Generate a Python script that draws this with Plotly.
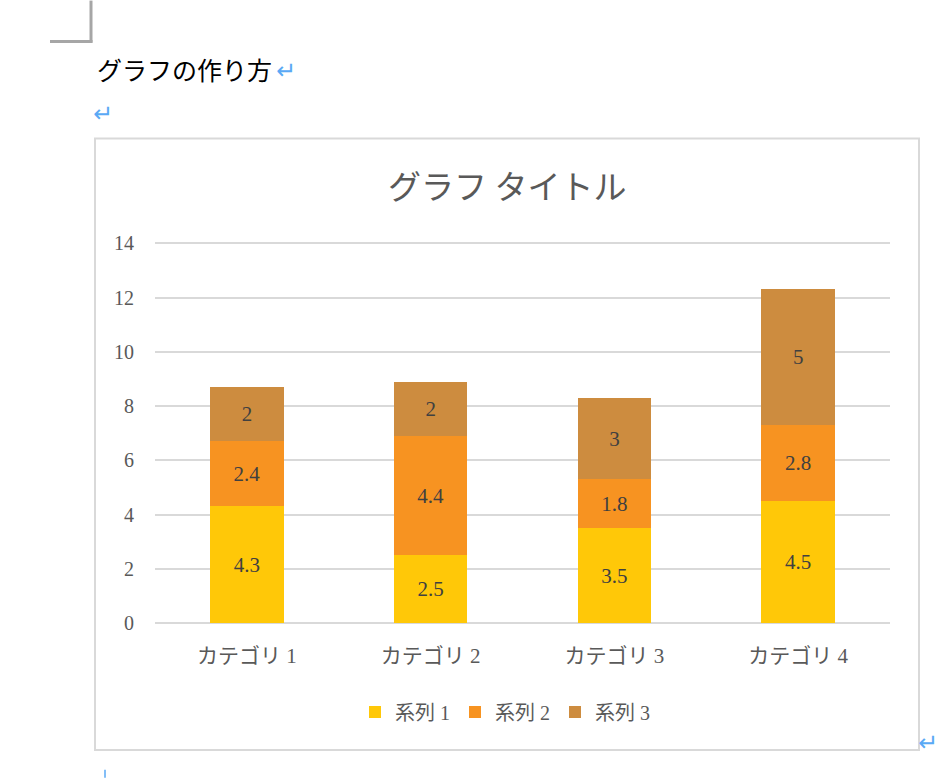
import plotly.graph_objects as go

categories = ["カテゴリ 1", "カテゴリ 2", "カテゴリ 3", "カテゴリ 4"]
series_names = ["系列 1", "系列 2", "系列 3"]
series1 = [4.3, 2.5, 3.5, 4.5]
series2 = [2.4, 4.4, 1.8, 2.8]
series3 = [2, 2, 3, 5]
colors = ["#FFC808", "#F79321", "#CD8C3F"]
y_ticks = [0, 2, 4, 6, 8, 10, 12, 14]

W, H = 946, 778
YMAX = 14.05
L, R, B = 155, 890, 623  # plot area in pixels
T = B - (B - 243) * YMAX / 14.0


def px(x):
    return (x - L) / (R - L)


def py(y):
    return (B - y) / (B - T)


SERIF = "Liberation Serif, DejaVu Serif, Noto Sans CJK JP, serif"
SANS = "Noto Sans CJK JP, Noto Sans, sans-serif"
TXT = "#595959"
BLUE = "#5AA9F5"

fig = go.Figure()
for name, vals, col in zip(series_names, [series1, series2, series3], colors):
    fig.add_trace(go.Bar(
        x=categories, y=vals, name=name, marker=dict(color=col, line=dict(width=0)),
        text=[f"{v:g}" for v in vals], textposition="inside",
        insidetextanchor="middle", textangle=0,
        textfont=dict(family=SERIF, size=21, color="#404040"),
        hoverinfo="skip",
    ))

fig.update_layout(
    width=W, height=H, autosize=False,
    margin=dict(l=L, r=W - R, t=T, b=H - B, pad=0),
    paper_bgcolor="white", plot_bgcolor="white",
    barmode="stack", bargap=0.6,
    showlegend=True,
    legend=dict(orientation="h", x=px(505), xanchor="center", y=py(712), yanchor="middle",
                font=dict(family=SERIF, size=20, color=TXT), traceorder="normal",
                itemwidth=30, bgcolor="rgba(0,0,0,0)"),
    xaxis=dict(showgrid=False, showline=False, ticks="", tickfont=dict(family=SERIF, size=21, color=TXT),
               ticklabelstandoff=18, fixedrange=True),
    yaxis=dict(range=[0, YMAX], tickvals=y_ticks, showgrid=True, gridcolor="#D9D9D9", gridwidth=1.5,
               zeroline=True, zerolinecolor="#D9D9D9", zerolinewidth=2, showline=False, ticks="",
               tickfont=dict(family=SERIF, size=20, color=TXT), ticklabelstandoff=20, fixedrange=True),
)

shapes = [
    # chart frame
    dict(type="rect", xref="paper", yref="paper", x0=px(95), x1=px(919), y0=py(138), y1=py(750),
         line=dict(color="#D9D9D9", width=2), fillcolor="rgba(0,0,0,0)", layer="below"),
    # page corner mark
    dict(type="line", xref="paper", yref="paper", x0=px(91), x1=px(91), y0=py(0), y1=py(42),
         line=dict(color="#A6A6A6", width=3)),
    dict(type="line", xref="paper", yref="paper", x0=px(50), x1=px(92.5), y0=py(41), y1=py(41),
         line=dict(color="#A6A6A6", width=3)),
    # partially visible mark at the bottom
    dict(type="line", xref="paper", yref="paper", x0=px(105), x1=px(105), y0=py(770), y1=py(778),
         line=dict(color=BLUE, width=1.5)),
]
fig.update_layout(shapes=shapes)

annotations = [
    dict(text="グラフ タイトル", x=px(507), y=py(185), xref="paper", yref="paper", showarrow=False,
         xanchor="center", yanchor="middle", font=dict(family=SANS, size=33, color=TXT)),
    dict(text="グラフの作り方", x=px(95), y=py(68), xref="paper", yref="paper", showarrow=False,
         xanchor="left", yanchor="middle", font=dict(family=SANS, size=25, color="#000000")),
    dict(text="↵", x=px(274), y=py(70), xref="paper", yref="paper", showarrow=False,
         xanchor="left", yanchor="middle", font=dict(family="DejaVu Sans", size=24, color=BLUE)),
    dict(text="↵", x=px(91), y=py(114), xref="paper", yref="paper", showarrow=False,
         xanchor="left", yanchor="middle", font=dict(family="DejaVu Sans", size=24, color=BLUE)),
    dict(text="↵", x=px(916), y=py(743), xref="paper", yref="paper", showarrow=False,
         xanchor="left", yanchor="middle", font=dict(family="DejaVu Sans", size=24, color=BLUE)),
]
fig.update_layout(annotations=annotations)

fig.write_html("out.html", config={"displayModeBar": False},
               post_script="document.body.style.margin='0';document.body.style.padding='0';")
